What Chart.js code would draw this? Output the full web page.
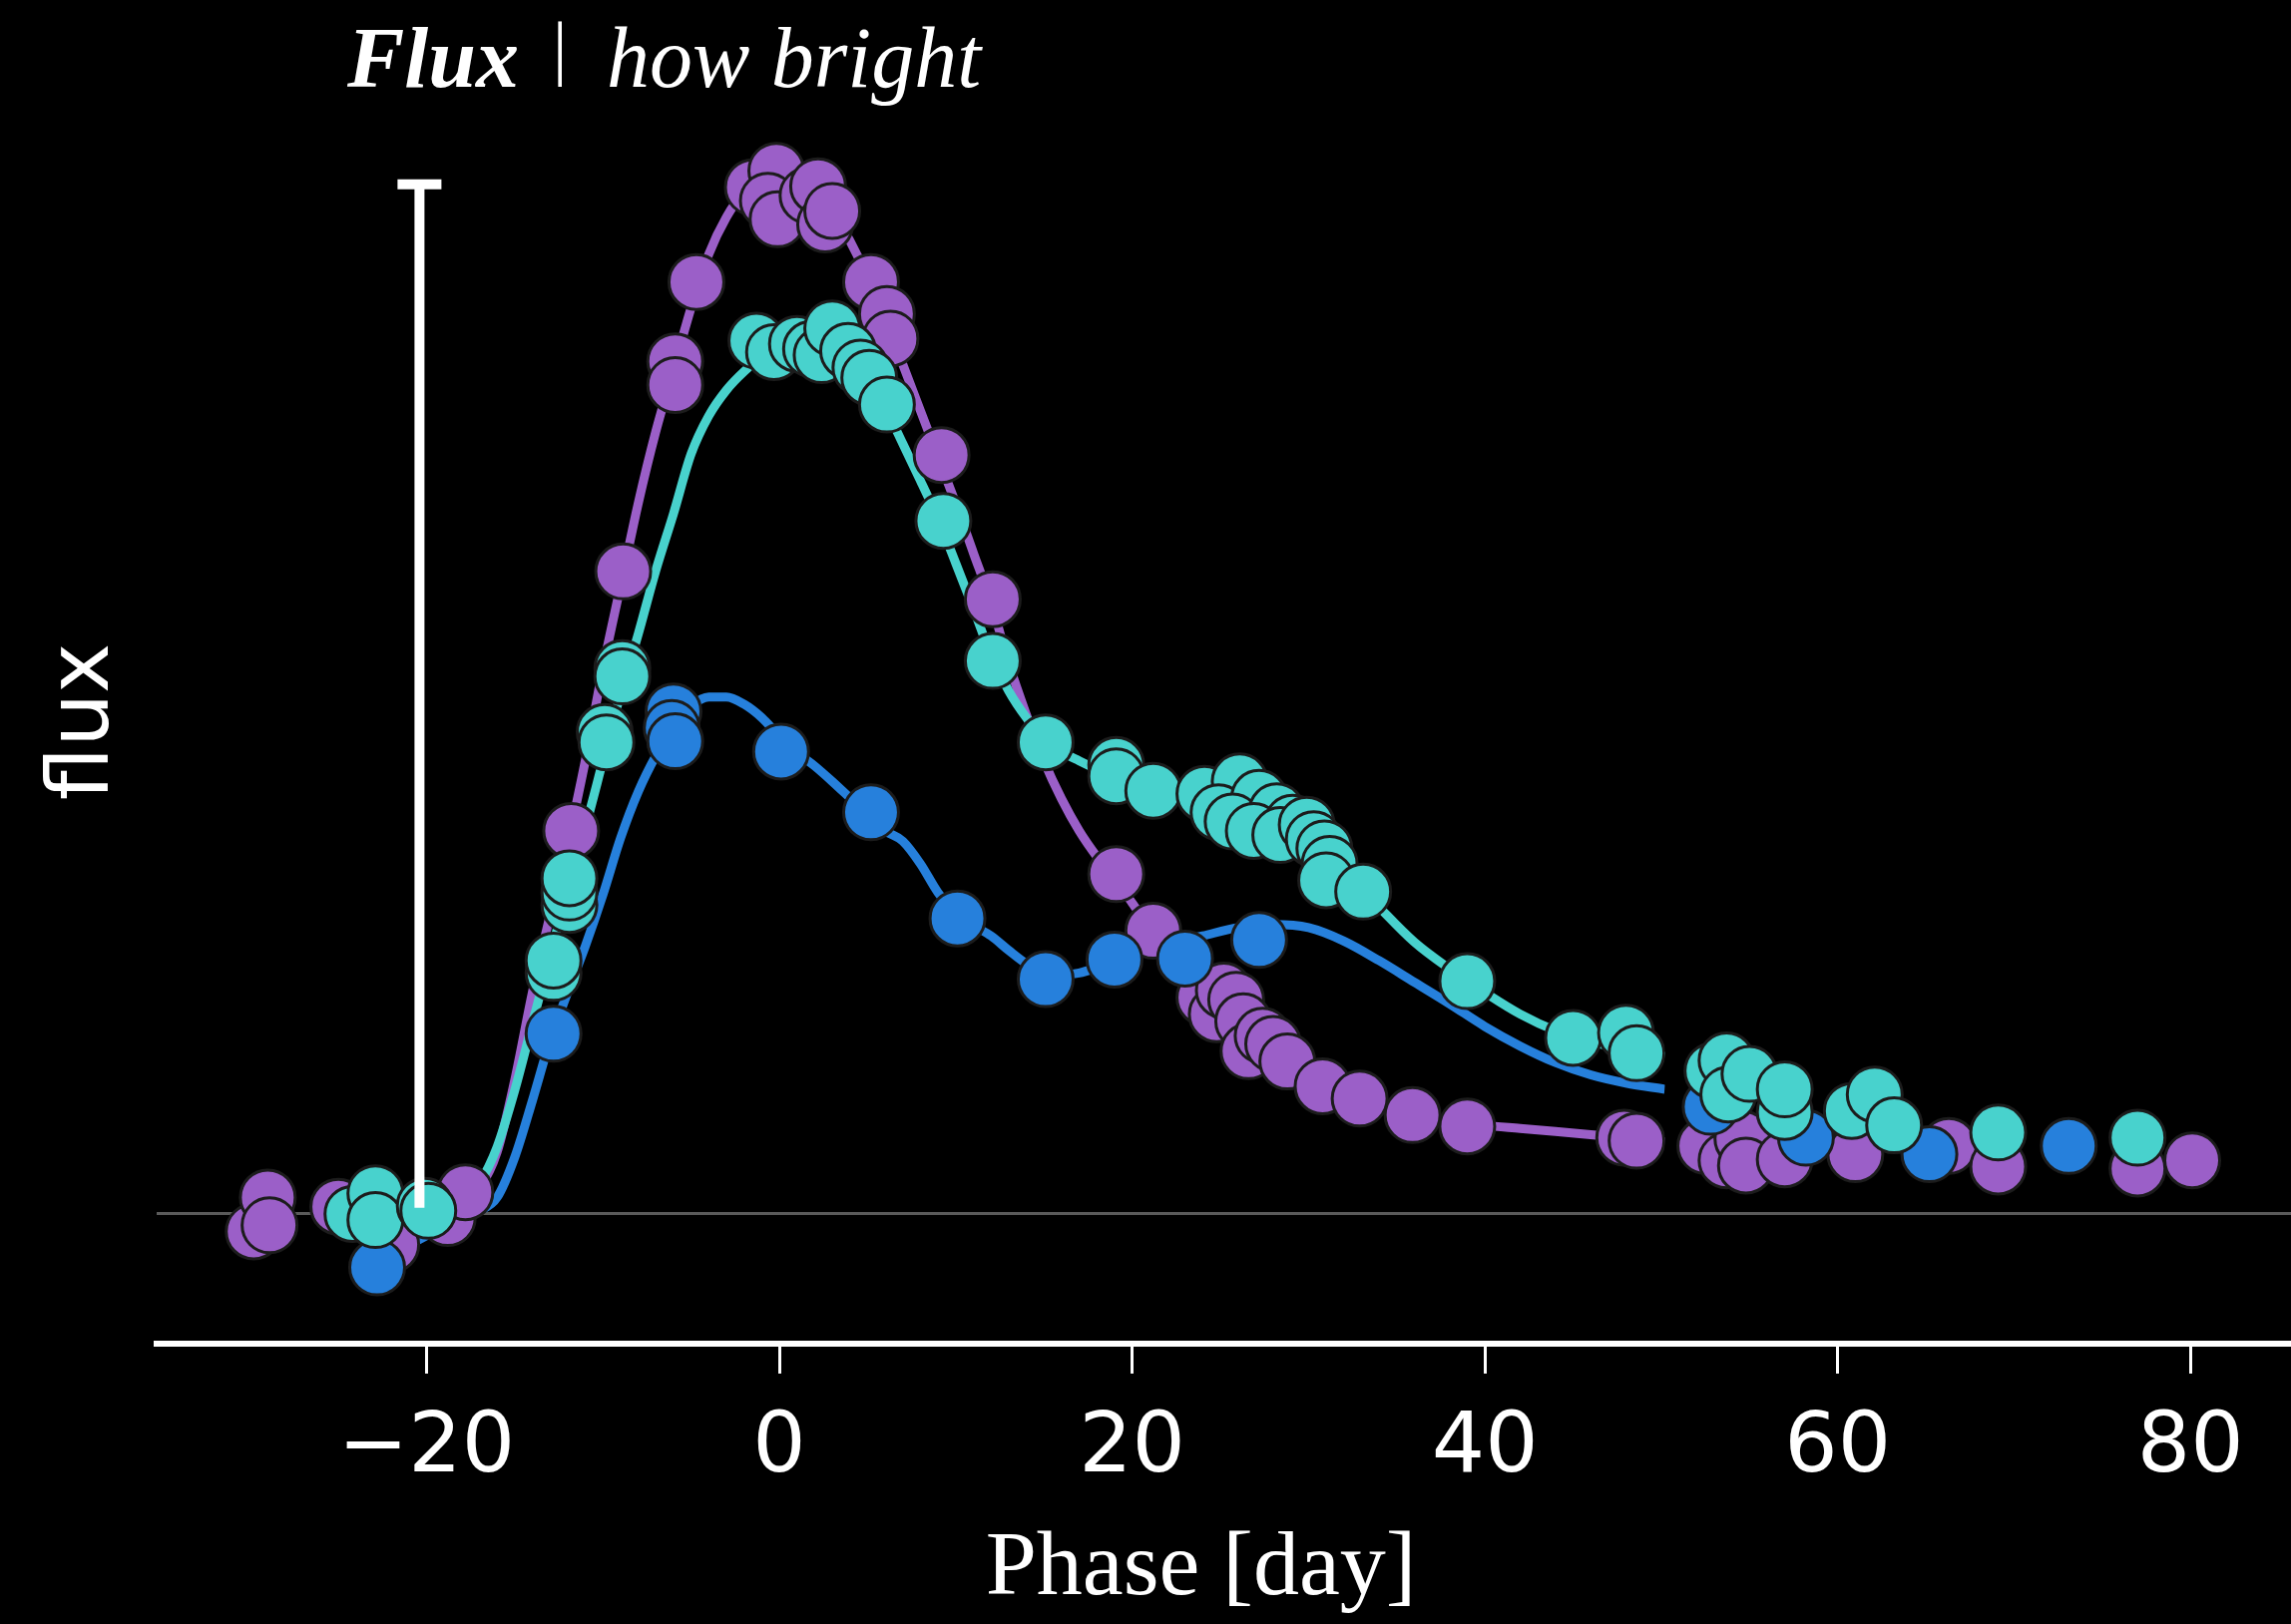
<!DOCTYPE html>
<html>
<head>
<meta charset="utf-8">
<title>Flux | how bright</title>
<script src="https://cdn.jsdelivr.net/npm/chart.js@4.4.1/dist/chart.umd.min.js"></script>
<style>
  html, body { margin: 0; padding: 0; background: #000; }
  canvas { display: block; }
</style>
</head>
<body>
<canvas id="lightCurve" width="2296" height="1628"></canvas>
<script>
// Tick labels on the phase axis
const phaseTicks = [-20, 0, 20, 40, 60, 80];

// Observed points per band: phase [day] and flux (scale bar = 1)
const purplePhase = [-29.8, -29.0, -28.9, -25.0, -22.0, -18.8, -17.8, -11.8, -8.85, -5.9, -5.9, -4.7,
  -1.5, -0.17, -0.65, -0.1, 1.6, 2.2, 2.6, 3.0, 5.2, 6.1, 6.3, 9.2, 12.1, 19.1, 21.2,
  24.1, 24.8, 25.2, 25.9, 26.3, 26.6, 27.4, 28.0, 28.8, 30.8, 32.9, 35.9, 39.0, 47.9, 48.6,
  52.5, 53.7, 54.6, 54.8, 57.0, 61.0, 66.3, 69.1, 77.0, 80.1];
const purpleFlux = [-0.017, 0.016, -0.011, 0.007, -0.030, -0.004, 0.021, 0.372, 0.624, 0.828, 0.805, 0.905,
  0.997, 1.013, 0.984, 0.966, 0.989, 0.998, 0.961, 0.974, 0.905, 0.874, 0.850, 0.737, 0.597, 0.330, 0.275,
  0.210, 0.194, 0.217, 0.208, 0.187, 0.158, 0.173, 0.165, 0.148, 0.124, 0.112, 0.096, 0.085, 0.074, 0.071,
  0.066, 0.052, 0.073, 0.047, 0.053, 0.058, 0.066, 0.046, 0.044, 0.052];

const cyanPhase = [-24.2, -22.9, -22.9, -20.1, -19.9, -12.8, -12.8, -11.9, -11.9, -11.9, -9.9, -9.8, -8.9, -8.9,
  -1.3, -0.3, 1.0, 1.8, 2.4, 3.0, 3.9, 4.6, 5.1, 6.1, 9.3, 12.1, 15.1, 19.1, 19.1, 21.2,
  24.1, 26.1, 24.9, 27.2, 25.7, 28.2, 26.9, 29.1, 28.4, 29.9, 30.3, 30.9, 31.2, 31.0, 33.1,
  39.0, 45.0, 48.0, 48.6,
  52.9, 53.7, 53.8, 55.0, 57.0, 57.0, 60.8, 62.1, 63.2, 69.1, 77.0];
const cyanFlux = [0.000, 0.020, -0.006, 0.008, 0.003, 0.234, 0.246, 0.300, 0.312, 0.326, 0.468, 0.458, 0.530, 0.522,
  0.848, 0.837, 0.845, 0.840, 0.834, 0.860, 0.838, 0.822, 0.812, 0.786, 0.673, 0.537, 0.458, 0.436, 0.425, 0.411,
  0.408, 0.420, 0.390, 0.404, 0.381, 0.391, 0.372, 0.380, 0.368, 0.378, 0.364, 0.355, 0.340, 0.324, 0.313,
  0.226, 0.171, 0.176, 0.156,
  0.139, 0.149, 0.116, 0.136, 0.099, 0.121, 0.100, 0.116, 0.086, 0.079, 0.074];

const bluePhase = [-22.8, -12.8, -6.0, -6.1, -5.9, 0.1, 5.2, 10.1, 15.1, 19.0, 23.0, 27.2,
  52.8, 58.2, 65.2, 73.1];
const blueFlux = [-0.052, 0.175, 0.488, 0.472, 0.459, 0.449, 0.390, 0.287, 0.228, 0.247, 0.248, 0.266,
  0.104, 0.074, 0.058, 0.066];

// Fitted curves at these phases
const curvePhase = [-23, -21, -19, -18, -17, -16, -15, -14, -13, -12, -11, -10, -9, -8, -7, -6, -5, -4, -3, -2, -1,
  0, 1, 2, 3, 4, 5, 6, 7, 8, 9, 10, 11, 12, 13, 14, 15, 16, 17, 18, 19, 20, 21, 22,
  24, 26, 28, 30, 32, 34, 36, 38, 40, 42, 44, 46, 48, 50.2];
const purpleCurve = [0.0, 0.0, 0.005, 0.012, 0.025, 0.06, 0.13, 0.215, 0.29, 0.36, 0.44, 0.53, 0.61, 0.69, 0.76, 0.82, 0.88, 0.932, 0.968, 0.992, 1.005,
  1.01, 1.006, 0.995, 0.975, 0.945, 0.91, 0.87, 0.825, 0.78, 0.735, 0.69, 0.642, 0.594, 0.535, 0.485, 0.44, 0.403, 0.372, 0.347, 0.326, 0.302, 0.278, 0.256,
  0.222, 0.19, 0.156, 0.131, 0.115, 0.105, 0.097, 0.09, 0.086, 0.083, 0.08, 0.077, 0.074, 0.07];
const cyanCurve = [0.0, 0.0, 0.005, 0.012, 0.03, 0.065, 0.12, 0.185, 0.25, 0.315, 0.375, 0.44, 0.505, 0.563, 0.625, 0.68, 0.738, 0.775, 0.8, 0.818, 0.832,
  0.84, 0.845, 0.845, 0.84, 0.828, 0.81, 0.783, 0.748, 0.712, 0.675, 0.632, 0.588, 0.543, 0.508, 0.482, 0.462, 0.449, 0.44, 0.432, 0.426, 0.42, 0.415, 0.41,
  0.402, 0.392, 0.378, 0.36, 0.334, 0.298, 0.264, 0.238, 0.215, 0.194, 0.178, 0.167, 0.16, 0.153];
const blueCurve = [-0.045, -0.03, -0.012, -0.004, 0.003, 0.016, 0.055, 0.11, 0.168, 0.215, 0.26, 0.31, 0.365, 0.41, 0.445, 0.473, 0.493, 0.502, 0.502, 0.495, 0.482,
  0.464, 0.448, 0.435, 0.42, 0.404, 0.388, 0.372, 0.362, 0.34, 0.312, 0.292, 0.28, 0.27, 0.256, 0.243, 0.234, 0.232, 0.234, 0.239, 0.245, 0.25, 0.256, 0.262,
  0.27, 0.278, 0.281, 0.278, 0.265, 0.246, 0.225, 0.204, 0.182, 0.163, 0.147, 0.135, 0.127, 0.121];

// Scale bar (flux 0 to 1) and the phase where the left panel is cut
const barPhase = -20.4;
const barFlux = [0.006, 1];
const panelCut = 50.2;

const PURPLE = '#9b5fc8';
const CYAN = '#48d2cd';
const BLUE = '#2680dc';
const EDGE = '#1c1c1c';

function pts(xs, ys, keep) {
  const out = [];
  xs.forEach((x, i) => { if (keep(x)) out.push({ x: x, y: ys[i] }); });
  return out;
}
const early = x => x <= 50;
const late = x => x > 50;

function curve(ys, color) {
  return {
    data: curvePhase.map((x, i) => ({ x: x, y: ys[i] })),
    showLine: true, borderColor: color, borderWidth: 9,
    pointRadius: 0, cubicInterpolationMode: 'monotone',
    cutAt: panelCut, order: 5
  };
}
function marks(data, color, order, cut) {
  return {
    data: data, backgroundColor: color, borderColor: EDGE, borderWidth: 3,
    pointRadius: 27.5, pointHoverRadius: 27.5, order: order, cutAt: cut
  };
}

// Clips the left-panel datasets at the panel edge
const cutPlugin = {
  id: 'cut',
  beforeDatasetDraw(chart, args) {
    const cut = chart.data.datasets[args.index].cutAt;
    if (cut === undefined) return;
    const ctx = chart.ctx;
    ctx.save();
    ctx.beginPath();
    ctx.rect(0, 0, chart.scales.x.getPixelForValue(cut), chart.height);
    ctx.clip();
  },
  afterDatasetDraw(chart, args) {
    if (chart.data.datasets[args.index].cutAt !== undefined) chart.ctx.restore();
  }
};

// Header text: "Flux | how bright"
const headerPlugin = {
  id: 'header',
  afterDraw(chart) {
    const ctx = chart.ctx;
    ctx.save();
    ctx.fillStyle = '#fff';
    ctx.textBaseline = 'alphabetic';
    ctx.textAlign = 'left';
    ctx.font = 'italic bold 86px "Liberation Serif"';
    ctx.fillText('Flux', 348, 87);
    ctx.font = '72px "Liberation Serif"';
    ctx.fillText('|', 554, 72);
    ctx.font = 'italic 86px "Liberation Serif"';
    ctx.fillText('how bright', 608, 87);
    ctx.restore();
  }
};

new Chart(document.getElementById('lightCurve'), {
  type: 'scatter',
  data: {
    datasets: [
      {
        data: barFlux.map(y => ({ x: barPhase, y: y })),
        showLine: true, borderColor: '#fff', borderWidth: 10,
        pointStyle: 'line', pointRadius: [0, 22], pointBorderColor: '#fff', pointBorderWidth: 10,
        order: 0
      },
      marks(pts(cyanPhase, cyanFlux, early), CYAN, 1, panelCut),
      marks(pts(cyanPhase, cyanFlux, late), CYAN, 1),
      marks(pts(bluePhase, blueFlux, early), BLUE, 2, panelCut),
      marks(pts(bluePhase, blueFlux, late), BLUE, 2),
      marks(pts(purplePhase, purpleFlux, early), PURPLE, 3, panelCut),
      marks(pts(purplePhase, purpleFlux, late), PURPLE, 3),
      curve(blueCurve, BLUE),
      curve(cyanCurve, CYAN),
      curve(purpleCurve, PURPLE)
    ]
  },
  options: {
    responsive: false,
    animation: false,
    events: [],
    layout: { autoPadding: false, padding: { top: 100, left: 0, right: 0, bottom: 0 } },
    plugins: { legend: { display: false }, tooltip: { enabled: false } },
    scales: {
      x: {
        type: 'linear', min: -35.3, max: 85.7,
        afterBuildTicks: s => { s.ticks = phaseTicks.map(v => ({ value: v })); },
        ticks: {
          color: '#fff', padding: 34, autoSkip: false, maxRotation: 0,
          font: { family: 'DejaVu Sans', size: 84, lineHeight: 1 },
          callback: v => v < 0 ? '\u2212' + Math.abs(v) : String(v)
        },
        grid: { display: true, drawOnChartArea: false, drawTicks: true, tickLength: 30, color: '#fff', lineWidth: 3 },
        border: { display: true, color: '#fff', width: 6 },
        title: {
          display: true, text: 'Phase [day]\u2002', color: '#fff',
          font: { family: 'Liberation Serif', size: 92, lineHeight: 0.87 },
          padding: { top: 5, bottom: 14 }
        }
      },
      y: {
        type: 'linear', min: -0.126, max: 1.082,
        afterBuildTicks: s => { s.ticks = [{ value: 0 }]; },
        ticks: { display: false },
        grid: { color: '#5a5a5a', lineWidth: 3, drawTicks: false },
        border: { display: false },
        title: {
          display: true, text: 'flux', color: '#fff',
          font: { family: 'DejaVu Sans', size: 85, lineHeight: 1 },
          padding: { top: 43, bottom: 29 }
        }
      }
    }
  },
  plugins: [cutPlugin, headerPlugin]
});
</script>
</body>
</html>
